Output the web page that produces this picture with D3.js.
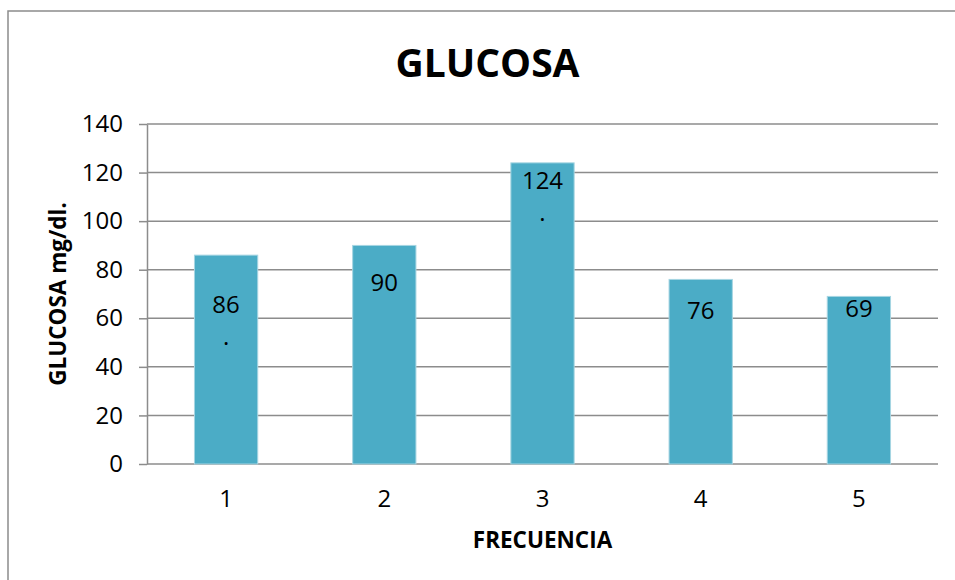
<!DOCTYPE html>
<html>
<head>
<meta charset="utf-8">
<script src="https://cdn.jsdelivr.net/npm/d3@7"></script>
<style>
  html, body { margin: 0; padding: 0; background: #fff; }
  svg { display: block; }
  text { font-family: "Open Sans", "DejaVu Sans", sans-serif; }
</style>
</head>
<body>
<svg id="chart" width="955" height="580"></svg>
<script>
// ---- data ----
const categories = ["1", "2", "3", "4", "5"];
const values = [86, 90, 124, 76, 69];
const labelLines = [["86", "."], ["90"], ["124", "."], ["76"], ["69"]];
const yTicks = [0, 20, 40, 60, 80, 100, 120, 140];
const titleText = "GLUCOSA";
const yTitle = "GLUCOSA mg/dl.";
const xTitle = "FRECUENCIA";

// ---- layout ----
const W = 955, H = 580;
const plot = { left: 147, right: 938, top: 124, bottom: 464 };
const labelOffset = [58, 46, 26, 40, 21]; // px from bar top to first label baseline
const lineGap = 32;
const gray = "#8c8c8c";
const barColor = "#4bacc6";

const svg = d3.select("#chart");

// outer border
svg.append("rect")
  .attr("x", 8).attr("y", 11)
  .attr("width", W + 20).attr("height", H + 20)
  .attr("fill", "#fff")
  .attr("stroke", gray).attr("stroke-width", 1.5);

const x = d3.scaleBand()
  .domain(categories)
  .range([plot.left, plot.right])
  .paddingInner(0.6).paddingOuter(0.3);

const y = d3.scaleLinear()
  .domain([0, 140])
  .range([plot.bottom, plot.top]);

// gridlines
svg.append("g").selectAll("line")
  .data(yTicks)
  .join("line")
  .attr("x1", plot.left).attr("x2", plot.right)
  .attr("y1", d => y(d)).attr("y2", d => y(d))
  .attr("stroke", gray).attr("stroke-width", 1.5);

// bars
svg.append("g").selectAll("rect")
  .data(values)
  .join("rect")
  .attr("x", (d, i) => x(categories[i]))
  .attr("width", x.bandwidth())
  .attr("y", d => y(d))
  .attr("height", d => y(0) - y(d))
  .attr("fill", barColor)
  .attr("stroke", "#a6d5e2").attr("stroke-width", 1);

// y axis
const yAxis = svg.append("g")
  .attr("transform", `translate(${plot.left},0)`)
  .call(d3.axisLeft(y).tickValues(yTicks).tickSize(8).tickSizeOuter(0).tickPadding(16));
yAxis.select(".domain").attr("stroke", gray).attr("stroke-width", 1.5);
yAxis.selectAll(".tick line").attr("stroke", gray).attr("stroke-width", 1.5);
yAxis.selectAll(".tick text")
  .attr("font-size", 24).attr("fill", "#000")
  .style("font-family", '"Open Sans", sans-serif');

// x axis
const xAxis = svg.append("g")
  .attr("transform", `translate(0,${plot.bottom})`)
  .call(d3.axisBottom(x).tickSize(0).tickPadding(26));
xAxis.select(".domain").remove();
xAxis.selectAll(".tick text")
  .attr("font-size", 24).attr("fill", "#000")
  .style("font-family", '"Open Sans", sans-serif');

// data labels
const lbl = svg.append("g").selectAll("text")
  .data(values)
  .join("text")
  .attr("text-anchor", "middle")
  .attr("font-size", 24)
  .attr("fill", "#000")
  .attr("x", (d, i) => x(categories[i]) + x.bandwidth() / 2)
  .attr("y", (d, i) => y(d) + labelOffset[i]);
lbl.each(function(d, i) {
  const t = d3.select(this);
  labelLines[i].forEach((s, k) => {
    t.append("tspan")
      .attr("x", x(categories[i]) + x.bandwidth() / 2)
      .attr("dy", k === 0 ? 0 : lineGap)
      .text(s);
  });
});

// title
svg.append("text")
  .attr("x", (plot.left + plot.right) / 2 - 55)
  .attr("y", 77)
  .attr("text-anchor", "middle")
  .attr("font-size", 39)
  .attr("font-weight", "bold")
  .attr("fill", "#000")
  .text(titleText);

// axis titles
svg.append("text")
  .attr("transform", `translate(66,${(plot.top + plot.bottom) / 2}) rotate(-90)`)
  .attr("text-anchor", "middle")
  .attr("font-size", 22.5)
  .attr("font-weight", "bold")
  .attr("fill", "#000")
  .text(yTitle);

svg.append("text")
  .attr("x", (plot.left + plot.right) / 2)
  .attr("y", 548)
  .attr("text-anchor", "middle")
  .attr("font-size", 22.5)
  .attr("font-weight", "bold")
  .attr("fill", "#000")
  .text(xTitle);
</script>
</body>
</html>
